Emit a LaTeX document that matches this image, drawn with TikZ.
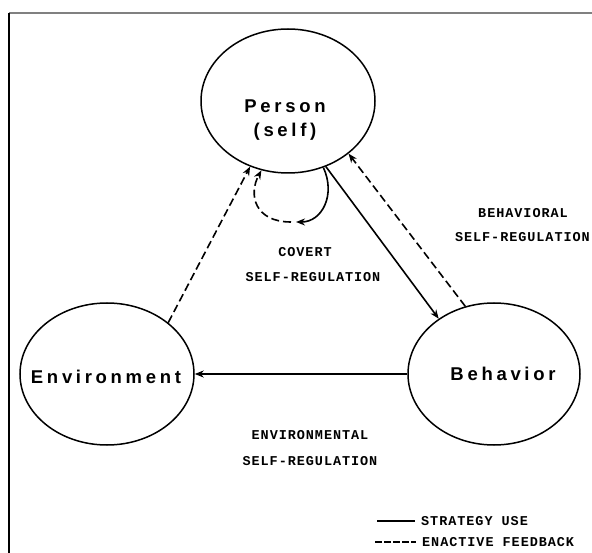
\documentclass[tikz,border=0pt]{standalone}
\usepackage{fontspec}
\newfontfamily\namefont{Liberation Sans}[LetterSpace=20]
\newfontfamily\tagfont{Liberation Mono}[LetterSpace=7]
\usetikzlibrary{shapes.geometric,arrows.meta}
\tikzset{
	use/.style={->,line width=1.6pt},
	feedback/.style={->,line width=1.6pt,dash pattern=on 8pt off 4pt},
	tag/.style={font=\tagfont\bfseries\fontsize{13.5}{15}\selectfont,inner sep=0pt},
	circtxt/.style={align=center,inner sep=0pt,font=\namefont\bfseries\fontsize{18.5}{24}\selectfont}
}
\begin{document}
\begin{tikzpicture}[x=1pt,y=-1pt,>={Stealth[length=9pt,width=7pt]}]
	\useasboundingbox (0,0) rectangle (592,553);
	\draw[gray,line width=2pt] (9,13) -- (592,13);
	\draw[line width=1.6pt] (9,13) -- (9,553);
	\begin{scope}\tikzset{every node/.style={ellipse,draw,line width=1.5pt,inner sep=0pt}}
	\node[minimum width=174pt,minimum height=144pt] (pers) at (288,101) {};
	\node[minimum width=174pt,minimum height=142pt] (env) at (107,374) {};
	\node[minimum width=172pt,minimum height=142pt] (beh) at (494,374) {};
	\end{scope}
	\node[circtxt] (perstxt) at (285,120) {Person\\(self)};
	\node[circtxt] (envtxt) at (106,377) {Environment};
	\node[circtxt] (behtxt) at (503,374) {Behavior};
	% links between the three
	\begin{scope}
		\draw[feedback] (env.40) -- (pers.-120);
		\draw[use] (pers.-60) -- (beh.135);
		\draw[feedback] (beh.113) -- (pers.-41);
		\draw[use] (beh.west) -- (env.east);
		\coordinate (loop) at (296,222);
		\draw[use] (pers.-62) .. controls (336,195) and (322,222) .. (loop);
		\draw[feedback] ([xshift=-5pt]loop) .. controls (255,222) and (248,195) .. (pers.-111);
	\end{scope}
	\node[tag] (cov) at (305,252) {COVERT};
	\node[tag] (covsr) at (313,277) {SELF-REGULATION};
	\node[tag] (bhv) at (523,213) {BEHAVIORAL};
	\node[tag,anchor=east] (bhvsr) at (590,237) {SELF-REGULATION};
	\node[tag] (envl) at (310,435) {ENVIRONMENTAL};
	\node[tag] (envsr) at (310,461) {SELF-REGULATION};
	% legend
	\coordinate (k1) at (377,521);
	\coordinate (k2) at (375,542);
	\node[tag,anchor=west] (stratuse) at (421,521) {STRATEGY USE};
	\node[tag,anchor=west] (enact) at (422,542) {ENACTIVE FEEDBACK};
	\draw[line width=2pt] (k1) -- ([xshift=-6pt]stratuse.west);
	\draw[line width=2pt,dash pattern=on 7pt off 2pt] (k2) -- ([xshift=-6pt]enact.west);
\end{tikzpicture}
\end{document}
